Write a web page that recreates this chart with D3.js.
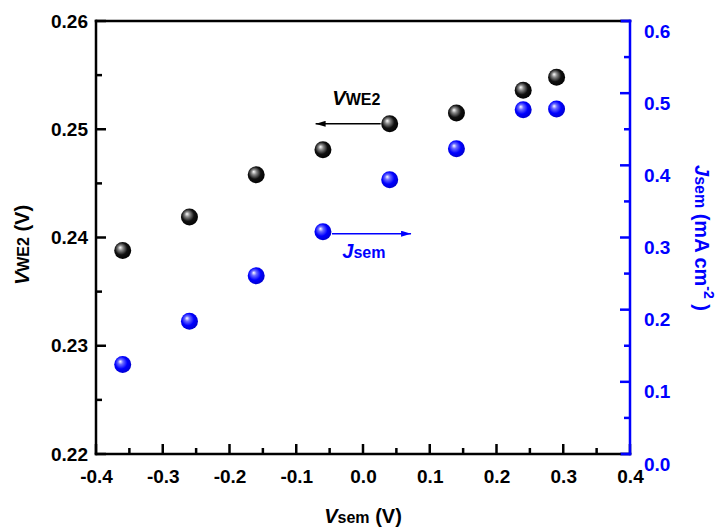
<!DOCTYPE html>
<html>
<head>
<meta charset="utf-8">
<script src="https://cdn.jsdelivr.net/npm/d3@7"></script>
<style>
  body { margin: 0; background: #fff; }
  svg { display: block; font-family: "Liberation Sans", Arial, sans-serif; font-weight: bold; }
</style>
</head>
<body>
<svg id="chart" width="720" height="529"></svg>
<script>
// data
const vsem = [-0.36, -0.26, -0.16, -0.06, 0.04, 0.14, 0.24, 0.29];
const vwe2 = [0.2388, 0.2419, 0.2458, 0.2481, 0.2505, 0.2515, 0.2536, 0.2548];
const jsem = [0.124, 0.184, 0.247, 0.308, 0.380, 0.423, 0.477, 0.478];

const xTicks = [-0.4, -0.3, -0.2, -0.1, 0.0, 0.1, 0.2, 0.3, 0.4];
const yLeftTicks = [0.22, 0.23, 0.24, 0.25, 0.26];
const yRightTicks = [0.0, 0.1, 0.2, 0.3, 0.4, 0.5, 0.6];

const margin = { top: 21, right: 90, bottom: 75, left: 96 };
const width = 720 - margin.left - margin.right;
const height = 529 - margin.top - margin.bottom;
const blue = "#0000ff";

const svg = d3.select("#chart");

// gradients for the shaded balls
const defs = svg.append("defs");
function ball(id, c0, c1, c2) {
    const gr = defs.append("radialGradient")
        .attr("id", id)
        .attr("cx", "0.45").attr("cy", "0.45").attr("r", "0.6")
        .attr("fx", "0.35").attr("fy", "0.32");
    gr.append("stop").attr("offset", "0%").attr("stop-color", "#ffffff");
    gr.append("stop").attr("offset", "25%").attr("stop-color", c0);
    gr.append("stop").attr("offset", "60%").attr("stop-color", c1);
    gr.append("stop").attr("offset", "100%").attr("stop-color", c2);
}
ball("ballBlack", "#888888", "#111111", "#000000");
ball("ballBlue", "#6a6aff", "#0000ff", "#0000c8");

function arrowHead(id, color) {
    defs.append("marker").attr("id", id)
        .attr("viewBox", "0 0 10 6").attr("refX", 10).attr("refY", 3)
        .attr("markerWidth", 10).attr("markerHeight", 6).attr("markerUnits", "userSpaceOnUse")
        .attr("orient", "auto")
        .append("path").attr("d", "M0,0 L10,3 L0,6 Z").attr("fill", color);
}
arrowHead("arrowBlack", "#000");
arrowHead("arrowBlue", blue);

const g = svg.append("g").attr("transform", `translate(${margin.left},${margin.top})`);

const x = d3.scaleLinear().domain([-0.4, 0.4]).range([0, width]);
const yL = d3.scaleLinear().domain([0.22, 0.26]).range([height, 0]);
const yR = d3.scaleLinear().domain([0, 0.6]).range([height, 0]);

// plain hyphen instead of unicode minus
const fmt = p => d => d3.format(p)(d).replace("\u2212", "-");

function minorsOf(ticks) {
    const out = [];
    for (let i = 0; i < ticks.length - 1; i++) out.push((ticks[i] + ticks[i + 1]) / 2);
    return out;
}

function styleAxis(sel, color) {
    sel.select(".domain").remove();
    sel.selectAll(".tick line").remove();
    sel.selectAll(".tick text").attr("fill", color)
        .style("font-size", "19px").style("font-weight", "bold")
        .style("font-family", '"Liberation Sans", Arial, sans-serif');
}

// tick labels through d3 axes
g.append("g").attr("transform", `translate(0,${height})`)
    .call(d3.axisBottom(x).tickValues(xTicks).tickSize(0).tickPadding(12).tickFormat(fmt(".1f")))
    .call(s => styleAxis(s, "#000"))
    .call(s => s.selectAll(".tick text").attr("dy", "0.9em"));

g.append("g")
    .call(d3.axisLeft(yL).tickValues(yLeftTicks).tickSize(0).tickPadding(8).tickFormat(fmt(".2f")))
    .call(s => styleAxis(s, "#000"));

g.append("g").attr("transform", `translate(${width},0)`)
    .call(d3.axisRight(yR).tickValues(yRightTicks).tickSize(0).tickPadding(14).tickFormat(fmt(".1f")))
    .call(s => styleAxis(s, blue))
    .call(s => s.selectAll(".tick text").attr("dy", "0.85em"));

// annotations
g.append("line")
    .attr("x1", x(vsem[4]) - 9).attr("y1", yL(vwe2[4]))
    .attr("x2", x(-0.071)).attr("y2", yL(vwe2[4]))
    .attr("stroke", "#000").attr("stroke-width", 1.5)
    .attr("marker-end", "url(#arrowBlack)");
const tV = g.append("text").attr("x", x(-0.046)).attr("y", yL(0.2522))
    .attr("fill", "#000").style("font-size", "20px");
tV.append("tspan").text("V").style("font-style", "italic");
tV.append("tspan").text("WE2").style("font-size", "16px");

g.append("line")
    .attr("x1", x(vsem[3]) + 9).attr("y1", yR(jsem[3]) + 2)
    .attr("x2", x(0.072)).attr("y2", yR(jsem[3]) + 2)
    .attr("stroke", blue).attr("stroke-width", 1.5)
    .attr("marker-end", "url(#arrowBlue)");
const tJ = g.append("text").attr("x", x(-0.031)).attr("y", yR(0.272))
    .attr("fill", blue).style("font-size", "20px");
tJ.append("tspan").text("J").style("font-style", "italic");
tJ.append("tspan").text("sem").style("font-size", "16px");

// points
g.selectAll("circle.vwe2").data(vsem).enter().append("circle")
    .attr("class", "vwe2")
    .attr("cx", d => x(d)).attr("cy", (d, i) => yL(vwe2[i]))
    .attr("r", 8.5).attr("fill", "url(#ballBlack)");
g.selectAll("circle.jsem").data(vsem).enter().append("circle")
    .attr("class", "jsem")
    .attr("cx", d => x(d)).attr("cy", (d, i) => yR(jsem[i]))
    .attr("r", 8.5).attr("fill", "url(#ballBlue)");

// axis titles
const xt = svg.append("text").attr("x", margin.left + width / 2).attr("y", 523)
    .attr("text-anchor", "middle").attr("fill", "#000").style("font-size", "20px");
xt.append("tspan").text("V").style("font-style", "italic");
xt.append("tspan").text("sem").style("font-size", "16px");
xt.append("tspan").text(" (V)");

const yt = svg.append("text").attr("transform", `translate(29,${margin.top + 224}) rotate(-90)`)
    .attr("text-anchor", "middle").attr("fill", "#000").style("font-size", "20px");
yt.append("tspan").text("V").style("font-style", "italic");
yt.append("tspan").text("WE2").style("font-size", "16px");
yt.append("tspan").text(" (V)");

const rt = svg.append("text").attr("transform", `translate(695,${margin.top + 217}) rotate(90)`)
    .attr("text-anchor", "middle").attr("fill", blue).style("font-size", "20px");
rt.append("tspan").text("J").style("font-style", "italic");
rt.append("tspan").text("sem").style("font-size", "16px");
rt.append("tspan").text(" (mA cm");
rt.append("tspan").text("-2").style("font-size", "14px").attr("dy", "-9");
rt.append("tspan").text(" )").attr("dy", "9");

// tick marks (inward), drawn from the scales, in page coordinates
const ticksLayer = svg.append("g").attr("class", "ticks");
function ticksX(vals, len) {
    ticksLayer.append("g").selectAll("line").data(vals).enter().append("line")
        .attr("x1", d => margin.left + x(d)).attr("x2", d => margin.left + x(d))
        .attr("y1", margin.top + height).attr("y2", margin.top + height - len)
        .attr("stroke", "#000").attr("stroke-width", 2.5);
}
function ticksY(scale, vals, len, x0, dir, color) {
    ticksLayer.append("g").selectAll("line").data(vals).enter().append("line")
        .attr("x1", margin.left + x0).attr("x2", margin.left + x0 + dir * len)
        .attr("y1", d => margin.top + scale(d)).attr("y2", d => margin.top + scale(d))
        .attr("stroke", color).attr("stroke-width", 2.5);
}
ticksX(xTicks, 10);
ticksX(minorsOf(xTicks), 6);
ticksY(yL, yLeftTicks, 10, 0, 1, "#000");
ticksY(yL, minorsOf(yLeftTicks), 6, 0, 1, "#000");
ticksY(yR, yRightTicks, 10, width, -1, blue);
ticksY(yR, minorsOf(yRightTicks), 6, width, -1, blue);

// frame lines
function frameLine(x1, y1, x2, y2, color) {
    ticksLayer.append("line")
        .attr("x1", margin.left + x1).attr("y1", margin.top + y1)
        .attr("x2", margin.left + x2).attr("y2", margin.top + y2)
        .attr("stroke", color).attr("stroke-width", 2.5).attr("stroke-linecap", "square");
}
frameLine(0, 0, width, 0, "#000");
frameLine(0, height, width, height, "#000");
frameLine(0, 0, 0, height, "#000");
frameLine(width - 8, 0, width, 0, blue);
frameLine(width - 8, height, width, height, blue);
frameLine(width, 0, width, height, blue);
</script>
</body>
</html>
